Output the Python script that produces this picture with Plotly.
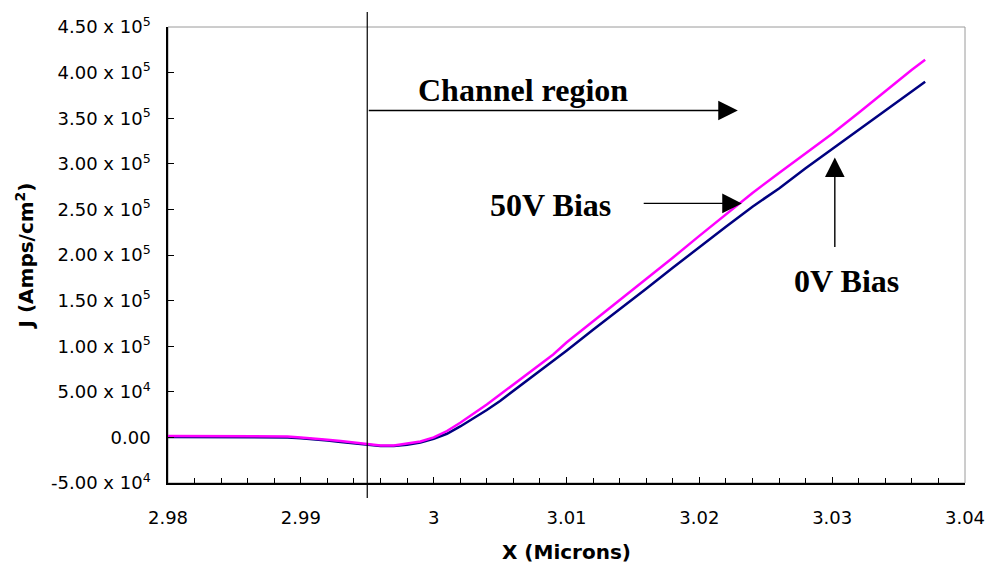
import plotly.graph_objects as go

# ---- data ----
x_vals = [2.980, 2.982, 2.984, 2.986, 2.988, 2.989, 2.990, 2.991, 2.992, 2.993,
          2.994, 2.995, 2.996, 2.997, 2.998, 2.999, 3.000, 3.001, 3.002, 3.003,
          3.004, 3.005, 3.006, 3.007, 3.008, 3.009, 3.010, 3.012, 3.014, 3.016,
          3.018, 3.020, 3.022, 3.024, 3.026, 3.028, 3.030, 3.032, 3.034, 3.036, 3.037]

j_50v = [1500, 1500, 1500, 1500, 1500, 1000, 0, -1000, -2500, -4000,
         -5500, -7000, -9000, -9000, -7000, -4500, 0, 7000, 16000, 26000,
         36000, 47000, 58000, 69000, 80000, 91000, 104000, 127000, 150000, 173000,
         197000, 221000, 245000, 268000, 290000, 311000, 333000, 356000, 380000, 403000, 414000]

j_0v = [500, 500, 500, 500, 500, 0, -1000, -2000, -3500, -5000,
        -6500, -8500, -9500, -9500, -8000, -5500, -1500, 4000, 12000, 21000,
        30000, 40000, 51000, 62000, 73000, 84000, 95000, 118000, 140000, 163000,
        186000, 209000, 231000, 253000, 273000, 295000, 316000, 337000, 358000, 379000, 390000]

y_tickvals = [-50000, 0, 50000, 100000, 150000, 200000, 250000, 300000, 350000, 400000, 450000]
y_ticktext = ["-5.00 x 10<sup>4</sup>", "0.00", "5.00 x 10<sup>4</sup>",
              "1.00 x 10<sup>5</sup>", "1.50 x 10<sup>5</sup>", "2.00 x 10<sup>5</sup>",
              "2.50 x 10<sup>5</sup>", "3.00 x 10<sup>5</sup>", "3.50 x 10<sup>5</sup>",
              "4.00 x 10<sup>5</sup>", "4.50 x 10<sup>5</sup>"]
x_tickvals = [2.98, 2.99, 3.00, 3.01, 3.02, 3.03, 3.04]
x_ticktext = ["2.98", "2.99", "3", "3.01", "3.02", "3.03", "3.04"]

channel_x = 2.995

fig = go.Figure()
fig.add_trace(go.Scatter(x=x_vals, y=j_0v, mode="lines",
                         line=dict(color="#000080", width=2.5), name="0V Bias"))
fig.add_trace(go.Scatter(x=x_vals, y=j_50v, mode="lines",
                         line=dict(color="#FF00FF", width=2.5), name="50V Bias"))

# plot frame (gray top/right)
fig.add_shape(type="rect", xref="paper", yref="paper", x0=0, x1=1, y0=0, y1=1,
              line=dict(color="#9a9a9a", width=1), layer="below")
# vertical channel boundary line
fig.add_shape(type="line", xref="x", yref="paper", x0=channel_x, x1=channel_x,
              y0=-0.033, y1=1.033, line=dict(color="black", width=1.2))

tfont = dict(family="Liberation Serif, Times New Roman, serif", size=32, color="black")
ann = []
ann.append(dict(x=3.00669, y=380500, xref="x", yref="y", text="<b>Channel region</b>",
                showarrow=False, font=tfont))
ann.append(dict(x=3.00877, y=254400, xref="x", yref="y", text="<b>50V Bias</b>",
                showarrow=False, font=tfont))
ann.append(dict(x=3.0311, y=172000, xref="x", yref="y", text="<b>0V Bias</b>",
                showarrow=False, font=tfont))
arrow_common = dict(xref="x", yref="y", axref="x", ayref="y", text="", showarrow=True,
                    arrowhead=2, arrowsize=2.8, arrowwidth=1.4, arrowcolor="black")
ann.append(dict(x=3.0229, y=358500, ax=channel_x, ay=358500, **arrow_common))
ann.append(dict(x=3.0232, y=256600, ax=3.0157, ay=256600, **arrow_common))
ann.append(dict(x=3.0302, y=307000, ax=3.0302, ay=207000, **arrow_common))

fig.update_layout(
    width=997, height=574,
    margin=dict(l=168, r=22, t=27, b=91),
    paper_bgcolor="white", plot_bgcolor="white",
    showlegend=False,
    annotations=ann,
    font=dict(family="DejaVu Sans, Arial, sans-serif", color="black"),
    xaxis=dict(range=[2.98, 3.04], tickvals=x_tickvals, ticktext=x_ticktext,
               showgrid=False, zeroline=False, showline=True, linecolor="black", linewidth=1.5,
               ticks="inside", ticklen=6, tickcolor="black", ticklabelstandoff=18,
               minor=dict(dtick=0.002, tick0=2.98, ticks="inside", ticklen=5, tickcolor="black", showgrid=False),
               tickfont=dict(size=18, family="DejaVu Sans, Arial, sans-serif"),
               title=dict(text="<b>X (Microns)</b>", font=dict(size=20), standoff=18)),
    yaxis=dict(range=[-50000, 450000], tickvals=y_tickvals, ticktext=y_ticktext,
               showgrid=False, zeroline=False, showline=True, linecolor="black", linewidth=1.5,
               ticks="inside", ticklen=6, tickcolor="black", ticklabelstandoff=12,
               tickfont=dict(size=18, family="DejaVu Sans, Arial, sans-serif"),
               title=dict(text="<b>J (Amps/cm<sup>2</sup>)</b>", font=dict(size=20), standoff=12)),
)

fig.write_html("out.html")
